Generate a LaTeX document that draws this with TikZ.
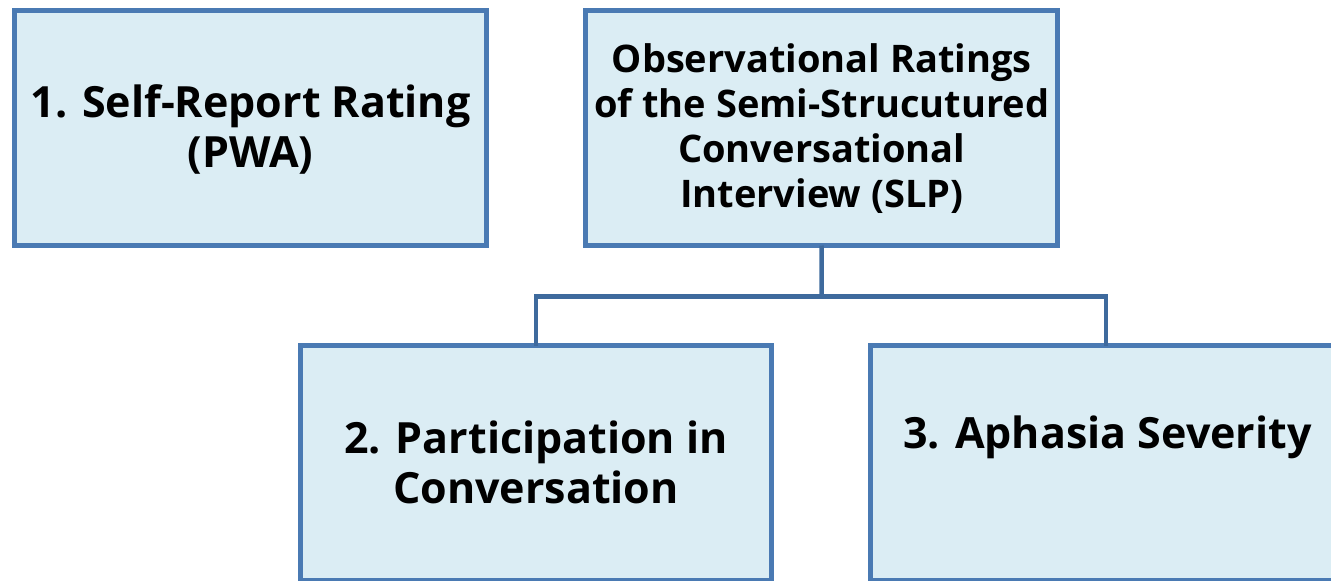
\documentclass[tikz,border=0pt]{standalone}
\usepackage{fontspec}
\setmainfont{Open Sans}
\definecolor{boxline}{HTML}{4A7AB3}
\definecolor{boxfill}{HTML}{DBEDF4}
\definecolor{linkline}{HTML}{3E6A9D}
\begin{document}
\begin{tikzpicture}[x=1pt,y=-1pt,
  boxshape/.style={draw=boxline,fill=boxfill,line width=4.5pt,minimum width=472pt,minimum height=235pt,inner sep=0pt,outer sep=0pt,anchor=north west},
  bigtext/.style={font=\fontsize{43}{50}\selectfont\bfseries,align=center,anchor=base,inner sep=0pt},
  smalltext/.style={font=\fontsize{38}{45}\selectfont\bfseries,align=center,anchor=base,inner sep=0pt},
  link/.style={draw=linkline,line width=4.5pt}]
\useasboundingbox (0,0) rectangle (1331,581);
\node[boxshape] (b1) at (14.5,10.5) {};
\node[boxshape] (top) at (585.5,10.5) {};
\node[boxshape,minimum width=471pt,minimum height=234.5pt] (b2) at (300.5,345.5) {};
\node[boxshape,minimum width=471pt,minimum height=234.5pt] (b3) at (870.5,345.5) {};
\coordinate (j) at (821.75,296.5);
\draw[link] (top.south) -- (j);
\draw[link] (b2.north) |- (j) -| (b3.north);
\node[bigtext] (t1) at (250.5,167) {1. Self-Report Rating\\(PWA)};
\node[smalltext] (tt) at (821.75,207) {Observational Ratings\\of the Semi-Strucutured\\Conversational\\Interview (SLP)};
\node[bigtext] (t2) at (536,503) {2. Participation in\\Conversation};
\node[bigtext] (t3) at (1107.5,448) {3. Aphasia Severity};
\end{tikzpicture}
\end{document}
